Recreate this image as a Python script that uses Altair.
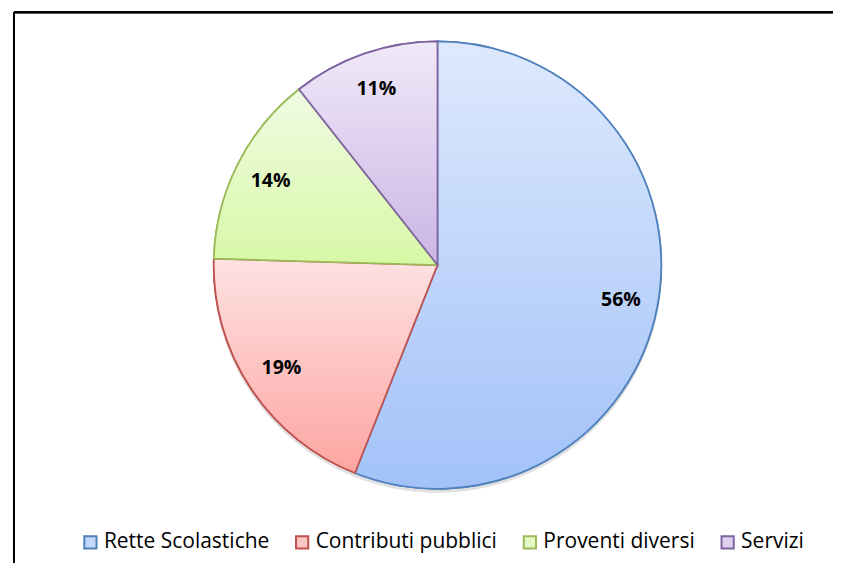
import altair as alt
import pandas as pd

# ---- data ----
categories = ["Rette Scolastiche", "Contributi pubblici", "Proventi diversi", "Servizi"]
values = [55.9, 19.4, 13.9, 10.6]

# ---- style ----
top_colors = ["#dee9fd", "#fde2e2", "#f0fbe3", "#f0e9f8"]
bottom_colors = ["#a2c2f8", "#fda5a2", "#d7f8a6", "#cbb5e5"]
mid_colors = ["#c3d7fa", "#fdc6c4", "#e5f9c6", "#ded0ef"]
stroke_colors = ["#4f81bd", "#c0504d", "#9bbb59", "#8064a2"]

df = pd.DataFrame({"category": categories, "value": values, "idx": list(range(len(values)))})
total = sum(values)

W, H = 826, 555
CX, CY, R = 430, 257, 224

theta_scale = alt.Scale(domain=[0, total])

legend = alt.Legend(
    title=None,
    orient="none",
    direction="horizontal",
    legendX=72,
    legendY=524,
    symbolType="square",
    symbolSize=150,
    symbolStrokeWidth=2,
    labelFont="Open Sans",
    labelFontSize=21,
    labelColor="#000000",
    labelOffset=3,
    columnPadding=22,
    labelLimit=400,
)

shadow = alt.Chart().mark_arc(outerRadius=R + 1, fill="#000000", opacity=0.12).encode(
    theta=alt.Theta("start:Q", scale=theta_scale),
    theta2="end:Q",
    x=alt.value(CX),
    y=alt.value(CY + 3),
)

base = alt.Chart().mark_arc(outerRadius=R, strokeWidth=1.75).encode(
    theta=alt.Theta("start:Q", scale=theta_scale),
    theta2="end:Q",
    fill=alt.Fill("category:N", scale=alt.Scale(domain=categories, range=mid_colors), legend=legend),
    stroke=alt.Stroke("category:N", scale=alt.Scale(domain=categories, range=stroke_colors), legend=legend),
    x=alt.value(CX),
    y=alt.value(CY),
)

overlays = []
for cat, tc, bc, sc in zip(categories, top_colors, bottom_colors, stroke_colors):
    grad = alt.LinearGradient(
        gradient="linear",
        stops=[alt.GradientStop(offset=0, color=tc), alt.GradientStop(offset=1, color=bc)],
        x1=0, x2=0, y1=0, y2=1,
    )
    overlays.append(
        alt.Chart()
        .mark_arc(outerRadius=R, fill=grad, stroke=sc, strokeWidth=1.75)
        .encode(
            theta=alt.Theta("start:Q", scale=theta_scale),
            theta2="end:Q",
            x=alt.value(CX),
            y=alt.value(CY),
        )
        .transform_filter(alt.FieldEqualPredicate(field="category", equal=cat))
    )

labels = alt.Chart().mark_text(
    radius=187, font="Open Sans", fontSize=19.5, fontWeight="bold", color="#000000",
    align="center", baseline="middle",
).encode(
    theta=alt.Theta("mid:Q", scale=theta_scale),
    text="label:N",
    x=alt.value(CX),
    y=alt.value(CY),
)

border_top = alt.Chart().mark_rule(color="#000000", strokeWidth=2).encode(
    x=alt.value(6), x2=alt.value(W), y=alt.value(4)
)
border_left = alt.Chart().mark_rule(color="#000000", strokeWidth=2).encode(
    x=alt.value(6), y=alt.value(4), y2=alt.value(H)
)

chart = (
    alt.layer(shadow, base, *overlays, labels, border_top, border_left, data=df)
    .transform_window(end="sum(value)", sort=[alt.SortField("idx")], frame=[None, 0])
    .transform_joinaggregate(total="sum(value)")
    .transform_calculate(
        start="datum.end - datum.value",
        mid="datum.end - datum.value / 2",
        label="format(datum.value / datum.total, '.0%')",
    )
    .resolve_scale(theta="shared")
    .properties(width=W, height=H, padding=0, background="#ffffff")
    .configure_view(stroke=None)
)

chart.save("out.html", embed_options={"renderer": "svg", "actions": False})
